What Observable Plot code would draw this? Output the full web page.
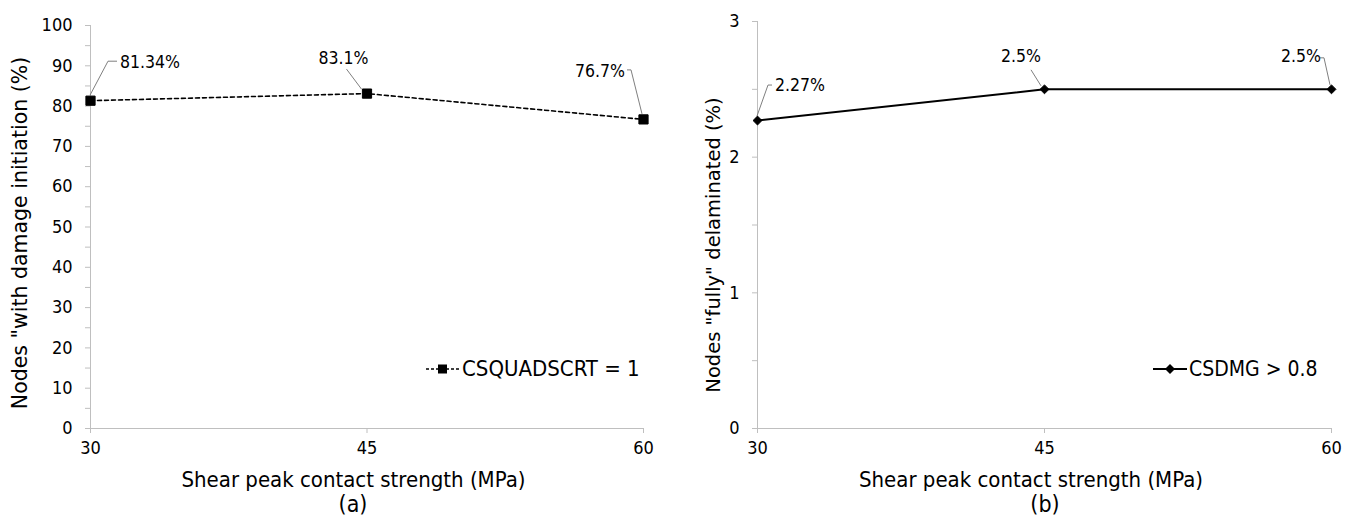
<!DOCTYPE html>
<html>
<head>
<meta charset="utf-8">
<script src="https://cdn.jsdelivr.net/npm/d3@7"></script>
<script src="https://cdn.jsdelivr.net/npm/@observablehq/plot@0.6"></script>
<style>
  html, body { margin: 0; padding: 0; background: #fff; }
  #wrap { position: relative; width: 1354px; height: 523px; overflow: hidden; font-family: "DejaVu Sans Condensed", sans-serif; }
  .panel { position: absolute; top: 0; width: 677px; height: 523px; }
  .caption { position: absolute; top: 491px; font-size: 23px; color: #000; transform: translateX(-50%); white-space: nowrap; z-index: 2; }
  .legend { position: absolute; color: #000; display: flex; align-items: center; white-space: nowrap; z-index: 2; }
  svg text { fill: #000; }
</style>
</head>
<body>
<div id="wrap">
  <div class="panel" id="pa" style="left:0"></div>
  <div class="panel" id="pb" style="left:677px"></div>
</div>
<script>
// ---- data ----
const strength = [30, 45, 60];
const damageInitiation = [81.34, 83.1, 76.7];
const fullyDelaminated = [2.27, 2.5, 2.5];
const damageLabels = ["81.34%", "83.1%", "76.7%"];
const delamLabels = ["2.27%", "2.5%", "2.5%"];
const xTicks = [30, 45, 60];
const yTicksA = [0, 10, 20, 30, 40, 50, 60, 70, 80, 90, 100];
const yMinorA = [5, 15, 25, 35, 45, 55, 65, 75, 85, 95];
const yTicksB = [0, 1, 2, 3];
const yMinorB = [0.5, 1.5, 2.5];
const xTitle = "Shear peak contact strength (MPa)";
const yTitleA = 'Nodes "with damage initiation (%)';
const yTitleB = 'Nodes "fully" delaminated (%)';
const legendA = "CSQUADSCRT = 1";
const legendB = "CSDMG > 0.8";

// ---- styles (pixel offsets for the data-label leader lines) ----
const leaderA = [
  {path: [[0, -5], [18, -39], [27, -39]], tx: 30, ty: -38, anchor: "start"},
  {path: [[-5, -4], [-20, -24]], tx: -23, ty: -35, anchor: "middle"},
  {path: [[-1, -5], [-12, -49], [-16, -49]], tx: -18, ty: -48, anchor: "end"}
];
const leaderB = [
  {path: [[0, -4], [11, -35], [15, -35]], tx: 18, ty: -35, anchor: "start"},
  {path: [[-3, -3], [-13, -19]], tx: -23, ty: -33, anchor: "middle"},
  {path: [[-1, -4], [-7, -31], [-11, -31]], tx: -30, ty: -33, anchor: "middle"}
];

const FONT = '"DejaVu Sans Condensed", sans-serif';
const GRID = "#bfbfbf";

function makePanel(opts) {
  const data = strength.map((x, i) => ({x, y: opts.values[i], label: opts.labels[i]}));
  const chart = Plot.plot({
    width: 677,
    height: 500,
    marginLeft: opts.ml,
    marginRight: opts.mr,
    marginTop: opts.mt,
    marginBottom: 72,
    style: {fontFamily: FONT, fontSize: "18px", color: "#000", background: "transparent"},
    x: {domain: [30, 60], label: null},
    y: {domain: opts.ydomain, label: null},
    marks: [
      Plot.ruleY([opts.ydomain[0]], {stroke: GRID, strokeWidth: 1}),
      Plot.ruleX([30], {stroke: GRID, strokeWidth: 1}),
      Plot.axisY(opts.minor, {tickFormat: () => "", tickSize: 5, stroke: GRID, label: null}),
      Plot.axisY(opts.yticks, {tickSize: 5, tickPadding: 13, stroke: GRID, label: null, fontSize: 18, tickFormat: d => String(d)}),
      Plot.axisX(xTicks, {tickSize: 5, tickPadding: 8, stroke: GRID, label: null, fontSize: 18, tickFormat: d => String(d)}),
      Plot.line(data, {x: "x", y: "y", stroke: "#000", strokeWidth: opts.lw, strokeDasharray: opts.dash}),
      Plot.dot(data, {x: "x", y: "y", symbol: opts.symbol, r: opts.r, fill: "#000", stroke: "#000", strokeWidth: 1})
    ]
  });
  const svg = d3.select(chart);
  const sx = chart.scale("x"), sy = chart.scale("y");
  // leader lines + labels
  const g = svg.append("g");
  data.forEach((d, i) => {
    const px = sx.apply(d.x), py = sy.apply(d.y);
    const L = opts.leaders[i];
    g.append("path")
      .attr("d", d3.line()(L.path.map(([dx, dy]) => [px + dx, py + dy])))
      .attr("fill", "none").attr("stroke", "#7f7f7f").attr("stroke-width", 1);
    g.append("text")
      .attr("x", px + L.tx).attr("y", py + L.ty)
      .attr("dy", "0.35em")
      .attr("text-anchor", L.anchor)
      .style("font-family", FONT).style("font-size", "17.5px")
      .text(d.label);
  });
  // axis titles
  const x0 = opts.ml, x1 = 677 - opts.mr;
  svg.append("text")
    .attr("x", (x0 + x1) / 2 - 13).attr("y", 479).attr("dy", "0.35em")
    .attr("text-anchor", "middle")
    .style("font-family", FONT).style("font-size", "22px")
    .text(xTitle);
  svg.append("text")
    .attr("transform", `translate(${opts.ytx},${opts.yc}) rotate(-90)`)
    .attr("dy", "0.35em")
    .attr("text-anchor", "middle")
    .style("font-family", '"DejaVu Sans", sans-serif').style("font-size", opts.ysize)
    .text(opts.ytitle);
  return chart;
}

const chartA = makePanel({
  values: damageInitiation, labels: damageLabels, leaders: leaderA,
  ml: 90, mr: 34, mt: 25, ydomain: [0, 100], yticks: yTicksA, minor: yMinorA,
  symbol: "square", r: 5.2, lw: 1.6, dash: "4,3", ytitle: yTitleA, ytx: 20, ysize: "20.5px", yc: 233
});
const chartB = makePanel({
  values: fullyDelaminated, labels: delamLabels, leaders: leaderB,
  ml: 80, mr: 23, mt: 21, ydomain: [0, 3], yticks: yTicksB, minor: yMinorB,
  symbol: "diamond2", r: 4, lw: 2, dash: null, ytitle: yTitleB, ytx: 36, ysize: "19.5px", yc: 245
});
document.getElementById("pa").appendChild(chartA);
document.getElementById("pb").appendChild(chartB);

// captions
function caption(parent, text, cx) {
  const d = document.createElement("div");
  d.className = "caption"; d.style.left = cx + "px"; d.textContent = text;
  document.getElementById(parent).appendChild(d);
}
caption("pa", "(a)", 353);
caption("pb", "(b)", 368);

// legends
function legend(parent, text, left, top, size, kind) {
  const d = document.createElement("div");
  d.className = "legend"; d.style.left = left + "px"; d.style.top = top + "px"; d.style.fontSize = size;
  const sw = d3.create("svg").attr("width", 36).attr("height", 24);
  sw.append("line").attr("x1", 1).attr("x2", 35).attr("y1", 12).attr("y2", 12)
    .attr("stroke", "#000").attr("stroke-width", kind === "square" ? 1.4 : 1.8)
    .attr("stroke-dasharray", kind === "square" ? "3,2" : null);
  if (kind === "square") sw.append("rect").attr("x", 13).attr("y", 7.5).attr("width", 9).attr("height", 9).attr("fill", "#000");
  else sw.append("path").attr("d", "M18,7L23,12L18,17L13,12Z").attr("fill", "#000");
  d.appendChild(sw.node());
  const t = document.createElement("span"); t.textContent = text; t.style.marginLeft = "1px";
  d.appendChild(t);
  document.getElementById(parent).appendChild(d);
}
legend("pa", legendA, 425, 356, "22px", "square");
legend("pb", legendB, 475, 357, "21px", "diamond");
</script>
</body>
</html>
